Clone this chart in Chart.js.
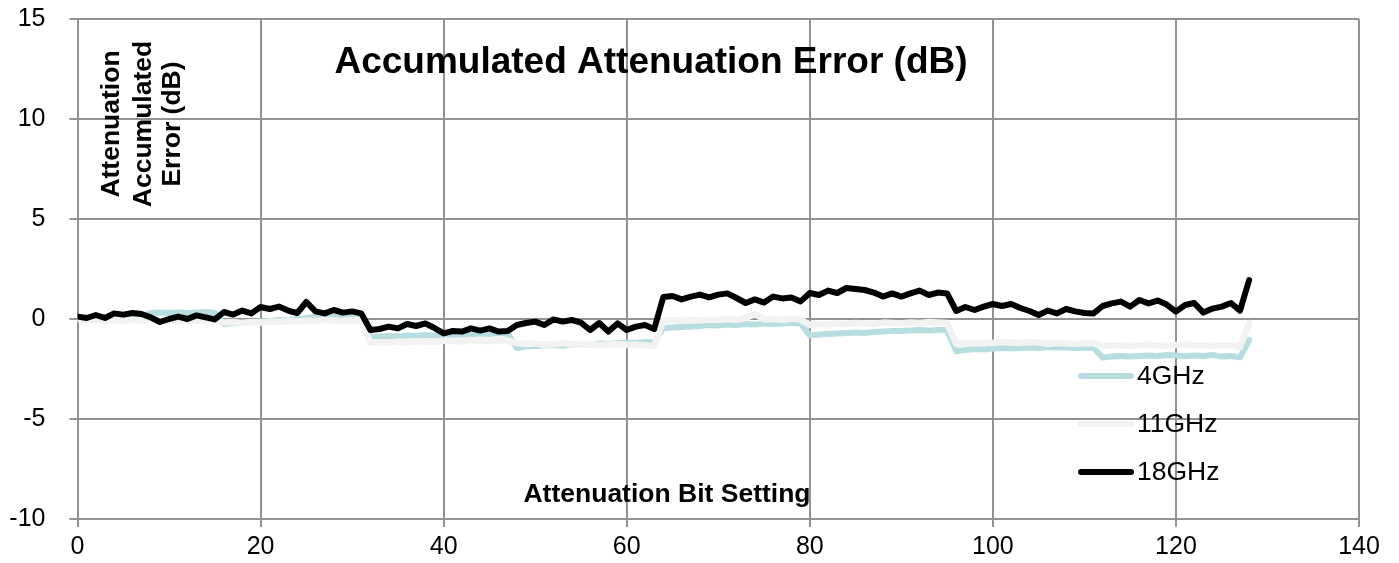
<!DOCTYPE html>
<html>
<head>
<meta charset="utf-8">
<script src="https://cdn.jsdelivr.net/npm/chart.js@4.4.0/dist/chart.umd.min.js"></script>
<style>
  html, body { margin: 0; padding: 0; background: #fff; }
  #wrap { width: 1399px; height: 563px; }
</style>
</head>
<body>
<div id="wrap"><canvas id="chart" width="1399" height="563"></canvas></div>
<script>
// bit settings 0..128
const bitSettings = Array.from({ length: 129 }, (_, i) => i);

const err4GHz = [
  0.1, 0.05, 0.12, 0.1, 0.15, 0.12, 0.2, 0.15,
  0.3, 0.32, 0.3, 0.33, 0.3, 0.32, 0.35, 0.3,
  -0.25, -0.2, -0.2, -0.15, -0.12, -0.1, -0.05, -0.08, 0.0, 0.05, 0.1, 0.08, 0.12, 0.1, 0.12, 0.1,
  -0.9, -0.88, -0.85, -0.88, -0.82, -0.85, -0.8, -0.82, -0.78, -0.8, -0.76, -0.78, -0.72, -0.75, -0.7, -0.72,
  -1.45, -1.38, -1.35, -1.33, -1.3, -1.32, -1.28, -1.25, -1.28, -1.22, -1.25, -1.2, -1.18, -1.2, -1.15, -1.18,
  -0.45, -0.42, -0.4, -0.38, -0.35, -0.3, -0.32, -0.28, -0.3, -0.25, -0.28, -0.22, -0.25, -0.22, -0.2, -0.22,
  -0.82, -0.78, -0.75, -0.72, -0.7, -0.68, -0.7, -0.65, -0.62, -0.6, -0.6, -0.58, -0.55, -0.57, -0.55, -0.55,
  -1.62, -1.55, -1.5, -1.52, -1.48, -1.45, -1.47, -1.45, -1.42, -1.45, -1.4, -1.42, -1.43, -1.45, -1.42, -1.45,
  -1.92, -1.88, -1.85, -1.88, -1.85, -1.82, -1.85, -1.8, -1.82, -1.85, -1.83, -1.85, -1.8, -1.88, -1.85, -1.92,
  -1.05
];

const err11GHz = [
  0.0, -0.05, -0.02, -0.08, -0.05, -0.1, -0.05, -0.08, -0.05, -0.1, -0.08, -0.05, -0.1, -0.08, -0.05, -0.12,
  -0.18, -0.15, -0.2, -0.15, -0.18, -0.12, -0.15, -0.1, -0.12, -0.08, -0.1, -0.05, -0.08, -0.1, -0.05, -0.08,
  -1.2, -1.15, -1.18, -1.12, -1.15, -1.1, -1.12, -1.15, -1.08, -1.1, -1.12, -1.05, -1.08, -1.1, -1.05, -1.08,
  -1.2, -1.25, -1.22, -1.3, -1.25, -1.2, -1.28, -1.22, -1.25, -1.3, -1.27, -1.25, -1.3, -1.28, -1.32, -1.35,
  -0.08, -0.05, -0.1, -0.05, -0.08, -0.02, -0.05, 0.0, -0.05, 0.05, 0.25, -0.02, 0.0, -0.05, 0.02, -0.03,
  -0.3, -0.25, -0.28, -0.22, -0.25, -0.2, -0.22, -0.25, -0.18, -0.2, -0.22, -0.18, -0.2, -0.15, -0.18, -0.2,
  -1.25, -1.2, -1.22, -1.18, -1.2, -1.15, -1.18, -1.2, -1.15, -1.18, -1.25, -1.2, -1.22, -1.25, -1.2, -1.22,
  -1.35, -1.3, -1.32, -1.35, -1.3, -1.28, -1.32, -1.35, -1.3, -1.28, -1.32, -1.3, -1.35, -1.3, -1.33, -1.4,
  -0.2
];

const err18GHz = [
  0.12, 0.05, 0.2, 0.05, 0.28, 0.22, 0.3, 0.25, 0.08, -0.15, 0.0, 0.12, 0.0, 0.18, 0.08, -0.02,
  0.35, 0.22, 0.42, 0.28, 0.6, 0.5, 0.62, 0.42, 0.3, 0.85, 0.38, 0.28, 0.45, 0.32, 0.38, 0.28,
  -0.55, -0.5, -0.38, -0.47, -0.25, -0.35, -0.22, -0.45, -0.72, -0.6, -0.63, -0.47, -0.58, -0.47, -0.63, -0.6,
  -0.3, -0.2, -0.13, -0.3, -0.02, -0.13, -0.05, -0.18, -0.55, -0.2, -0.63, -0.22, -0.55, -0.38, -0.3, -0.5,
  1.1, 1.15, 0.98, 1.12, 1.22, 1.08, 1.22, 1.28, 1.05, 0.8, 0.98, 0.82, 1.12, 1.03, 1.08, 0.88,
  1.3, 1.2, 1.42, 1.3, 1.55, 1.5, 1.45, 1.32, 1.12, 1.28, 1.12, 1.28, 1.42, 1.2, 1.32, 1.28,
  0.4, 0.6, 0.45, 0.62, 0.75, 0.65, 0.75, 0.55, 0.4, 0.2, 0.42, 0.28, 0.5, 0.38, 0.3, 0.28,
  0.65, 0.78, 0.87, 0.62, 0.95, 0.78, 0.92, 0.72, 0.37, 0.7, 0.8, 0.32, 0.52, 0.62, 0.8, 0.42,
  1.95
];

const seriesNames = ['4GHz', '11GHz', '18GHz'];
const seriesColors = ['#b7dde1', '#f2f2f2', '#000000'];

const chartTitle = 'Accumulated Attenuation Error (dB)';
const yTitleLines = ['Attenuation', 'Accumulated', 'Error (dB)'];
const xTitle = 'Attenuation Bit Setting';

const FONT = '"Liberation Sans", Arial, sans-serif';

function toPoints(values) {
  return values.map((v, i) => ({ x: bitSettings[i], y: v }));
}

// title, axis titles and legend sit inside the plot area
const overlayText = {
  id: 'overlayText',
  afterDraw(chart) {
    const ctx = chart.ctx;
    ctx.save();
    ctx.fillStyle = '#000';
    ctx.textBaseline = 'middle';
    ctx.textAlign = 'center';

    ctx.font = 'bold 37px ' + FONT;
    ctx.fillText(chartTitle, 651, 63);

    ctx.font = 'bold 26.5px ' + FONT;
    ctx.fillText(xTitle, 667, 495);

    const xs = [112, 144, 173];
    yTitleLines.forEach((line, i) => {
      ctx.save();
      ctx.translate(xs[i], 124);
      ctx.rotate(-Math.PI / 2);
      ctx.fillText(line, 0, 0);
      ctx.restore();
    });

    // legend
    ctx.font = '26.5px ' + FONT;
    ctx.textAlign = 'left';
    const rows = [376, 424, 472];
    chart.data.datasets.forEach((ds, i) => {
      ctx.strokeStyle = ds.borderColor;
      ctx.lineWidth = 6;
      ctx.lineCap = 'round';
      ctx.beginPath();
      ctx.moveTo(1081, rows[i]);
      ctx.lineTo(1131, rows[i]);
      ctx.stroke();
      ctx.fillText(ds.label, 1137, rows[i] + 1);
    });
    ctx.restore();
  }
};

const ctx = document.getElementById('chart').getContext('2d');
new Chart(ctx, {
  type: 'line',
  data: {
    datasets: seriesNames.map((name, i) => ({
      label: name,
      data: toPoints([err4GHz, err11GHz, err18GHz][i]),
      borderColor: seriesColors[i],
      backgroundColor: seriesColors[i],
      borderWidth: i === 1 ? 6.5 : 6,
      pointRadius: 0,
      tension: 0,
      borderJoinStyle: 'round',
      borderCapStyle: 'round',
      order: 3 - i
    }))
  },
  options: {
    responsive: false,
    animation: false,
    layout: { padding: { top: 19, right: 40, bottom: 0, left: 0 } },
    plugins: {
      legend: { display: false },
      title: { display: false },
      tooltip: { enabled: false }
    },
    scales: {
      x: {
        type: 'linear',
        min: 0,
        max: 140,
        ticks: {
          stepSize: 20,
          color: '#000',
          padding: 5,
          font: { family: FONT, size: 25 }
        },
        grid: { color: '#929292', lineWidth: 2, tickLength: 8 },
        border: { color: '#929292', width: 2 },
        afterFit(scale) {
          scale.height = 44;
          scale.paddingLeft = 0;
          scale.paddingRight = 0;
        }
      },
      y: {
        min: -10,
        max: 15,
        ticks: {
          stepSize: 5,
          color: '#000',
          padding: 24,
          font: { family: FONT, size: 25 }
        },
        grid: { color: '#929292', lineWidth: 2, tickLength: 8 },
        border: { color: '#929292', width: 2 },
        afterFit(scale) {
          scale.width = 77.5;
          scale.paddingTop = 0;
          scale.paddingBottom = 0;
        }
      }
    }
  },
  plugins: [overlayText]
});
</script>
</body>
</html>
